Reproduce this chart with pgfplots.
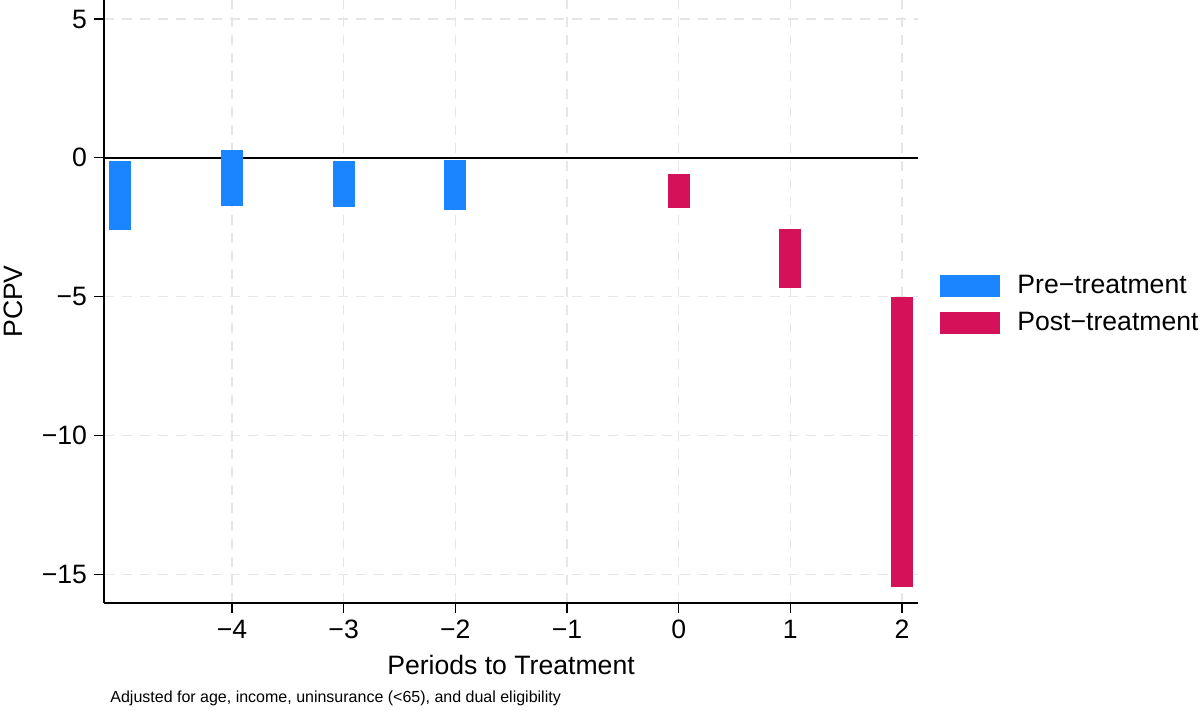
\documentclass[border=0pt]{standalone}
\usepackage{fontspec}
\setmainfont{Liberation Sans}
\usepackage{pgfplots}
\pgfplotsset{compat=1.18}
\usepackage{pgfplotstable}
\definecolor{preblue}{HTML}{1A85FF}
\definecolor{postred}{HTML}{D41159}
\definecolor{gridgray}{RGB}{230,230,230}

\pgfplotstableread{
x lo hi
-5 -2.59 -0.10
-4 -1.72 0.28
-3 -1.77 -0.115
-2 -1.88 -0.08
}\pre
\pgfplotstableread{
x lo hi
0 -1.81 -0.59
1 -4.68 -2.57
2 -15.45 -5.00
}\post

\begin{document}
\begin{tikzpicture}
\useasboundingbox (-52pt,-54pt) rectangle (548pt,301.5pt);
\begin{axis}[
  scale only axis, width=407pt, height=301.5pt,
  xmin=-5.146, xmax=2.143, ymin=-16.03, ymax=5.684,
  axis lines*=left, axis line style={line width=0.6pt, black},
  xtick={-4,-3,-2,-1,0,1,2}, xticklabels={−4,−3,−2,−1,0,1,2},
  ytick={-15,-10,-5,0,5}, yticklabels={−15,−10,−5,0,5},
  tick align=outside, major tick length=5pt,
  tick style={black, line width=0.6pt},
  ticklabel style={font=\fontsize{13.3}{16}\selectfont},
  grid=major, major grid style={gridgray, dash pattern=on 5pt off 4pt, line width=0.8pt},
  xlabel={Periods to Treatment}, ylabel={PCPV},
  label style={font=\fontsize{13.3}{16}\selectfont},
  xlabel style={at={([yshift=-36pt]axis description cs:0.5,0)}, anchor=base},
  ylabel style={at={([xshift=-40.5pt]axis description cs:0,0.5)}, anchor=base},
  legend style={draw=none, fill=none, at={([xshift=11pt,yshift=-1.5pt]axis description cs:1,0.5)},
    anchor=west, inner sep=0pt, row sep=7.5pt, column sep=8.5pt,
    font=\fontsize{13.3}{16}\selectfont, nodes={inner sep=0pt}},
  legend cell align=left,
  legend image code/.code={\fill[#1] (0pt,-5.5pt) rectangle (30pt,5.5pt);},
]
\addlegendimage{fill=preblue, draw=none}
\addlegendentry{Pre−treatment}
\addlegendimage{fill=postred, draw=none}
\addlegendentry{Post−treatment}

\addplot[forget plot, black, line width=1pt] coordinates {(-5.146,0) (2.143,0)};

\addplot[forget plot, only marks, mark=*, mark size=0pt, mark options={draw=none, fill=none},
  error bars/.cd, y dir=plus, y explicit, error mark=none,
  error bar style={line width=11pt, color=preblue}]
  table[x=x, y=lo, y error plus expr=\thisrow{hi}-\thisrow{lo}] {\pre};
\addplot[forget plot, only marks, mark=*, mark size=0pt, mark options={draw=none, fill=none},
  error bars/.cd, y dir=plus, y explicit, error mark=none,
  error bar style={line width=11pt, color=postred}]
  table[x=x, y=lo, y error plus expr=\thisrow{hi}-\thisrow{lo}] {\post};
\end{axis}
\node[anchor=base west, inner sep=0pt, font=\fontsize{8}{10}\selectfont] at (3pt,-50pt)
  {Adjusted for age, income, uninsurance (<65), and dual eligibility};
\end{tikzpicture}
\end{document}
